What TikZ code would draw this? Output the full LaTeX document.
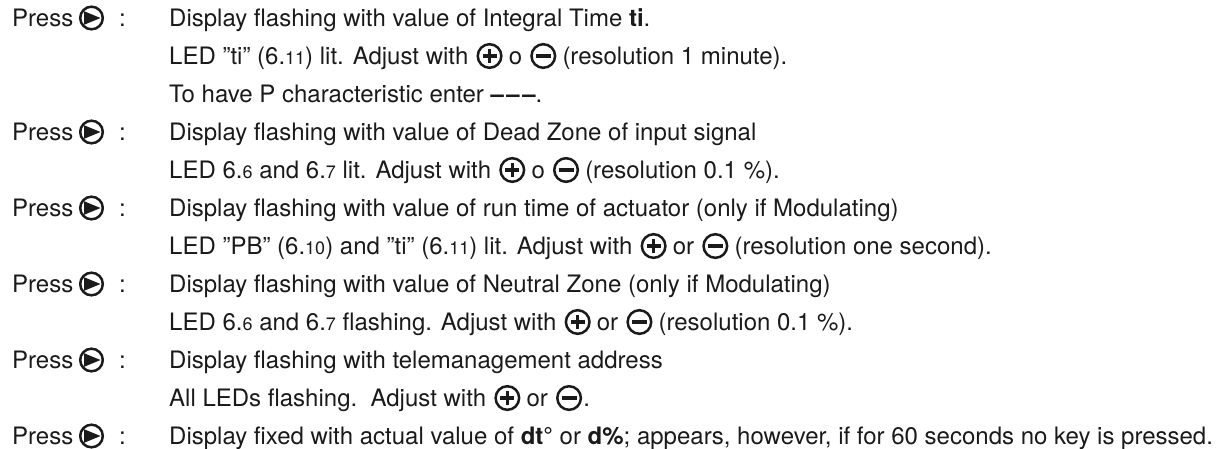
\documentclass[tikz,border=0pt]{standalone}
\usepackage{fontspec}
\setmainfont{TeX Gyre Heros}
\definecolor{ink}{HTML}{1A1A1A}
\newcommand{\sm}[1]{{\fontsize{18}{20}\selectfont #1}}
\tikzset{
  txt/.style={anchor=base west, inner sep=0pt, text=ink, font=\fontsize{24}{28}\selectfont},
  playbtn/.pic={\draw[ink,line width=2.5pt] (0pt,0pt) circle (11.3pt);
    \fill[ink] (-7.5pt,6.8pt)--(-7.5pt,-6.8pt)--(9pt,0pt)--cycle;},
  plusbtn/.pic={\draw[ink,line width=2.5pt] (0pt,0pt) circle (11.8pt);
    \draw[ink,line width=3.4pt] (-7pt,0pt)--(7pt,0pt) (0pt,-7pt)--(0pt,7pt);},
  minusbtn/.pic={\draw[ink,line width=2.5pt] (0pt,0pt) circle (11.8pt);
    \draw[ink,line width=3.4pt] (-7.5pt,0pt)--(7.5pt,0pt);},
  btnat/.style={xshift=21pt,yshift=8pt},
}
\begin{document}
\begin{tikzpicture}[x=1pt,y=-1pt]
\useasboundingbox (0,0) rectangle (1230,448);
% left column
\foreach \n/\y in {1/26, 2/140, 3/216, 4/292, 5/368, 6/444}{
  \node[txt] (press\n) at (12,\y) {Press};
  \pic at ([xshift=18pt,yshift=8pt]press\n.base east) {playbtn};
  \node[txt] (colon\n) at (119,\y) {:};
}
% right column
\node[txt] (t1) at (169,26) {Display flashing with value of Integral Time \textbf{ti}.};
%
\node[txt] (t2a) at (169,64) {LED "ti" (6.\sm{11}) lit. Adjust with};
\pic at ([btnat]t2a.base east) {plusbtn};
\node[txt] (t2b) at ([xshift=40pt]t2a.base east) {o};
\pic at ([btnat]t2b.base east) {minusbtn};
\node[txt] (t2c) at ([xshift=40pt]t2b.base east) {(resolution 1 minute).};
%
\node[txt] (t3) at (169,102) {To have P characteristic enter \textbf{–\kern2.5pt–\kern2.5pt–}.};
\node[txt] (t4) at (169,140) {Display flashing with value of Dead Zone of input signal};
%
\node[txt] (t5a) at (169,178) {LED 6.\sm{6} and 6.\sm{7} lit. Adjust with};
\pic at ([btnat]t5a.base east) {plusbtn};
\node[txt] (t5b) at ([xshift=40pt]t5a.base east) {o};
\pic at ([btnat]t5b.base east) {minusbtn};
\node[txt] (t5c) at ([xshift=40pt]t5b.base east) {(resolution 0.1 \%).};
%
\node[txt] (t6) at (169,216) {Display flashing with value of run time of actuator (only if Modulating)};
%
\node[txt] (t7a) at (169,254) {LED "PB" (6.\sm{10}) and "ti" (6.\sm{11}) lit. Adjust with};
\pic at ([btnat]t7a.base east) {plusbtn};
\node[txt] (t7b) at ([xshift=40pt]t7a.base east) {or};
\pic at ([btnat]t7b.base east) {minusbtn};
\node[txt] (t7c) at ([xshift=40pt]t7b.base east) {(resolution one second).};
%
\node[txt] (t8) at (169,292) {Display flashing with value of Neutral Zone (only if Modulating)};
%
\node[txt] (t9a) at (169,330) {LED 6.\sm{6} and 6.\sm{7} flashing. Adjust with};
\pic at ([btnat]t9a.base east) {plusbtn};
\node[txt] (t9b) at ([xshift=40pt]t9a.base east) {or};
\pic at ([btnat]t9b.base east) {minusbtn};
\node[txt] (t9c) at ([xshift=40pt]t9b.base east) {(resolution 0.1 \%).};
%
\node[txt] (t10) at (169,368) {Display flashing with telemanagement address};
%
\node[txt] (t11a) at (169,406) {All LEDs flashing.\ \ Adjust with};
\pic at ([btnat]t11a.base east) {plusbtn};
\node[txt] (t11b) at ([xshift=40pt]t11a.base east) {or};
\pic at ([btnat]t11b.base east) {minusbtn};
\node[txt] (t11c) at ([xshift=35pt]t11b.base east) {.};
%
\node[txt] (t12) at (169,444) {Display fixed with actual value of \textbf{dt°} or \textbf{d\%}; appears, however, if for 60 seconds no key is pressed.};
\end{tikzpicture}
\end{document}
